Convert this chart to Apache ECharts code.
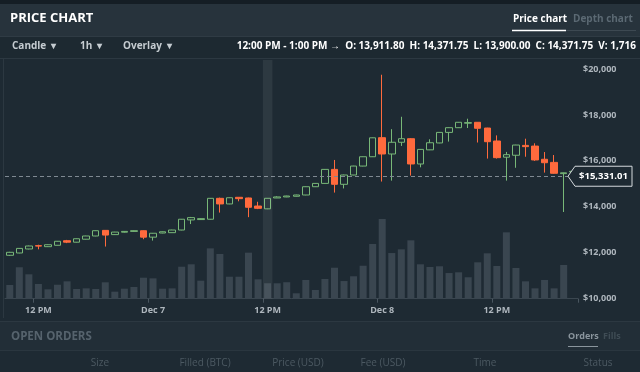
<!DOCTYPE html>
<html><head><meta charset="utf-8">
<script src="https://cdn.jsdelivr.net/npm/echarts@6/dist/echarts.min.js"></script>
<style>html,body{margin:0;padding:0;background:#1e2a33;}#c{width:640px;height:372px;}</style>
</head><body><div id="c"></div>
<script>
// hourly categories, Dec 6 9 AM .. Dec 8 8 PM
const categories = [
 'Dec 6 9 AM','Dec 6 10 AM','Dec 6 11 AM','Dec 6 12 PM','Dec 6 1 PM','Dec 6 2 PM','Dec 6 3 PM','Dec 6 4 PM','Dec 6 5 PM','Dec 6 6 PM','Dec 6 7 PM','Dec 6 8 PM','Dec 6 9 PM','Dec 6 10 PM','Dec 6 11 PM',
 'Dec 7 12 AM','Dec 7 1 AM','Dec 7 2 AM','Dec 7 3 AM','Dec 7 4 AM','Dec 7 5 AM','Dec 7 6 AM','Dec 7 7 AM','Dec 7 8 AM','Dec 7 9 AM','Dec 7 10 AM','Dec 7 11 AM','Dec 7 12 PM','Dec 7 1 PM','Dec 7 2 PM','Dec 7 3 PM','Dec 7 4 PM','Dec 7 5 PM','Dec 7 6 PM','Dec 7 7 PM','Dec 7 8 PM','Dec 7 9 PM','Dec 7 10 PM','Dec 7 11 PM',
 'Dec 8 12 AM','Dec 8 1 AM','Dec 8 2 AM','Dec 8 3 AM','Dec 8 4 AM','Dec 8 5 AM','Dec 8 6 AM','Dec 8 7 AM','Dec 8 8 AM','Dec 8 9 AM','Dec 8 10 AM','Dec 8 11 AM','Dec 8 12 PM','Dec 8 1 PM','Dec 8 2 PM','Dec 8 3 PM','Dec 8 4 PM','Dec 8 5 PM','Dec 8 6 PM','Dec 8 7 PM','Dec 8 8 PM'
];
const opens  = [11890,11990,12165,12310,12265,12325,12525,12460,12590,12730,12975,12790,12895,12930,12960,12680,12860,12875,12990,13430,13445,13460,14370,14125,14415,14385,14035,13911.80,14385,14430,14460,14515,14875,15020,15630,14980,15385,15775,16180,17010,16300,16810,16965,15865,16480,16780,17240,17445,17640,17680,17430,16865,16160,16245,16675,16645,16070,15935,15445,15520];
const closes = [12020,12190,12295,12290,12350,12500,12460,12610,12730,12960,12770,12900,12930,12960,12680,12850,12915,12990,13460,13530,13485,14370,14125,14395,14355,13980,13935,14371.75,14430,14470,14515,14875,15020,15630,14980,15385,15775,16180,17005,16300,16810,16965,15865,16500,16790,17240,17445,17680,17665,17420,16835,16140,16270,16690,16620,16040,15920,15460,15480,15545];
const lows   = [11860,11980,12150,12150,12250,12320,12420,12450,12580,12720,12270,12780,12880,12920,12590,12530,12850,12870,12980,13250,13435,13450,13750,14115,14240,13550,13900,13900,14380,14420,14450,14505,14865,15010,14620,14800,15375,15765,16170,15100,15140,16650,15360,15720,16470,16770,16840,17435,17430,16800,16100,16100,15140,15700,16180,16000,15490,15440,13775,15510];
const highs  = [12040,12200,12310,12350,12360,12510,12560,12620,12740,12970,12990,12910,12940,12970,12970,12860,12925,13000,13470,13560,13495,14380,14400,14405,14425,14400,14220,14371.75,14460,14480,14525,14885,15030,15640,16040,15400,15785,16190,17015,19750,17380,17920,16990,16510,16940,17250,17455,17690,17835,17690,17440,17110,16390,16700,16965,16765,16385,16255,15490,15555];
const volumes = [1520,3490,2710,1630,1040,1550,1930,1080,1150,1080,1820,780,1110,1300,2330,2260,1110,1150,3550,3820,2000,5590,4960,2440,2440,5110,2150,1716,1710,1830,600,2080,970,2190,3440,1960,2490,3660,6070,8850,5070,5480,6480,3820,3520,3600,2850,2930,2380,4040,5040,3630,7370,3410,1930,1150,2080,1150,3740,0];
const yTicks = [10000,12000,14000,16000,18000,20000];
const lastPrice = 15331.01;
const hoverIndex = 27;
const headerInfo = '12:00 PM - 1:00 PM \u2192  O: 13,911.80  H: 14,371.75  L: 13,900.00  C: 14,371.75  V: 1,716';

const BG = '#1e2a33', UP = '#78b878', DOWN = '#ff6a3d', AX = '#aeb6bd';
const FONT = '"Open Sans", "Noto Sans", sans-serif';
const candleData = categories.map((c, i) => [opens[i], closes[i], lows[i], highs[i]]);

const chart = echarts.init(document.getElementById('c'), null, {renderer: 'canvas'});
const fmtTick = v => '$' + Number(v).toLocaleString('en-US');

function isTick(v){ return /12 (AM|PM)$/.test(v); }

chart.setOption({
  backgroundColor: BG,
  animation: false,
  grid: {left: 5, right: 62, top: 60, height: 238.7},
  xAxis: {
    type: 'category', data: categories, boundaryGap: true,
    axisLine: {lineStyle: {color: '#3b4750'}},
    axisTick: {show: true, length: 4, lineStyle: {color: '#4a5660'}, interval: (i, v) => isTick(v)},
    axisLabel: {
      interval: (i, v) => isTick(v), color: AX, fontSize: 9, fontWeight: 'bold', fontFamily: FONT, margin: 7,
      formatter: v => v.endsWith('12 PM') ? '12 PM' : v.replace(/ 12 AM$/, '')
    },
    splitLine: {show: false},
    axisPointer: {
      show: true, type: 'shadow', value: hoverIndex, status: 'show', triggerTooltip: false,
      label: {show: false}, shadowStyle: {color: 'rgba(255,255,255,0.07)'}
    }
  },
  yAxis: [{
    type: 'value', position: 'right', min: yTicks[0], max: 20392, interval: 2000,
    axisLine: {show: false}, axisTick: {show: false}, splitLine: {show: false},
    axisLabel: {color: AX, fontSize: 9, fontWeight: 'bold', fontFamily: FONT, margin: 5, showMaxLabel: false,
      formatter: v => yTicks.indexOf(v) >= 0 ? fmtTick(v) : ''}
  }, {
    type: 'value', min: 0, max: 26500, show: false, splitLine: {show: false}
  }],
  series: [{
    type: 'bar', yAxisIndex: 1, data: volumes, barWidth: 7,
    itemStyle: {color: '#3a4650'}, z: 1, silent: true
  }, {
    type: 'candlestick', data: candleData, barWidth: 7, z: 3,
    itemStyle: {color: BG, color0: DOWN, borderColor: UP, borderColor0: DOWN, borderWidth: 1},
    markLine: {
      silent: true, symbol: 'none', label: {show: false},
      lineStyle: {color: '#7f8992', type: [4, 3], width: 1},
      data: [{yAxis: lastPrice}]
    }
  }]
});

const py = chart.convertToPixel({yAxisIndex: 0}, lastPrice);
chart.setOption({graphic: [
  {type: 'rect', shape: {x: 0, y: 0, width: 640, height: 4}, style: {fill: '#151e25'}, z: 0},
  {type: 'rect', shape: {x: 0, y: 4, width: 640, height: 32}, style: {fill: '#27333c'}, z: 0},
  {type: 'rect', shape: {x: 0, y: 36, width: 640, height: 22}, style: {fill: '#1d2931'}, z: 0},
  {type: 'line', shape: {x1: 0, y1: 36.5, x2: 640, y2: 36.5}, style: {stroke: '#2f3b44', lineWidth: 1}},
  {type: 'line', shape: {x1: 0, y1: 58.5, x2: 640, y2: 58.5}, style: {stroke: '#2c3841', lineWidth: 1}},
  {type: 'line', shape: {x1: 3.5, y1: 59, x2: 3.5, y2: 318}, style: {stroke: '#2c3841', lineWidth: 1}},
  {type: 'rect', shape: {x: 0, y: 321, width: 640, height: 29}, style: {fill: '#222e37'}, z: 0},
  {type: 'line', shape: {x1: 0, y1: 321.5, x2: 640, y2: 321.5}, style: {stroke: '#2c3841', lineWidth: 1}},
  {type: 'line', shape: {x1: 0, y1: 350.5, x2: 640, y2: 350.5}, style: {stroke: '#2a363f', lineWidth: 1}},
  {type: 'text', left: 10, top: 12, style: {text: 'PRICE CHART', font: 'bold 13px ' + FONT, fill: '#ffffff'}},
  {type: 'text', left: 513, top: 14, style: {text: 'Price chart', font: 'bold 10px ' + FONT, fill: '#ffffff'}},
  {type: 'text', left: 573, top: 14, style: {text: 'Depth chart', font: 'bold 10px ' + FONT, fill: '#5b6973'}},
  {type: 'line', shape: {x1: 566, y1: 30.5, x2: 636, y2: 30.5}, style: {stroke: '#3d4952', lineWidth: 1}},
  {type: 'line', shape: {x1: 512, y1: 30.5, x2: 566, y2: 30.5}, style: {stroke: '#ffffff', lineWidth: 1.5}},
  {type: 'text', left: 12, top: 41, style: {text: 'Candle  \u25BE', font: 'bold 10px ' + FONT, fill: '#c5ccd1'}},
  {type: 'text', left: 80, top: 41, style: {text: '1h  \u25BE', font: 'bold 10px ' + FONT, fill: '#c5ccd1'}},
  {type: 'text', left: 123, top: 41, style: {text: 'Overlay  \u25BE', font: 'bold 10px ' + FONT, fill: '#c5ccd1'}},
  {type: 'text', right: 4, top: 41, style: {text: headerInfo, font: 'bold 10px ' + FONT, fill: '#ffffff', textAlign: 'right'}},
  {type: 'polygon', shape: {points: [[568, py], [575, py - 10], [632, py - 10], [632, py + 10], [575, py + 10]]}, style: {fill: BG, stroke: '#d5dade', lineWidth: 1}, z: 10},
  {type: 'text', x: 603.5, y: py, style: {text: '$' + lastPrice.toLocaleString('en-US', {minimumFractionDigits: 2}), font: 'bold 9.5px ' + FONT, fill: '#ffffff', align: 'center', verticalAlign: 'middle'}, z: 11},
  {type: 'text', left: 11, top: 331, style: {text: 'OPEN ORDERS', font: 'bold 11.5px ' + FONT, fill: '#56636d'}},
  {type: 'text', left: 568, top: 332, style: {text: 'Orders', font: 'bold 9px ' + FONT, fill: '#8a959d'}},
  {type: 'text', left: 603, top: 332, style: {text: 'Fills', font: 'bold 9px ' + FONT, fill: '#3f4c55'}},
  {type: 'line', shape: {x1: 568, y1: 346.5, x2: 598, y2: 346.5}, style: {stroke: '#8a959d', lineWidth: 1}},
  {type: 'text', x: 100, y: 363, style: {text: 'Size', font: '10px ' + FONT, fill: '#4c5962', align: 'center', verticalAlign: 'middle'}},
  {type: 'text', x: 205, y: 363, style: {text: 'Filled (BTC)', font: '10px ' + FONT, fill: '#4c5962', align: 'center', verticalAlign: 'middle'}},
  {type: 'text', x: 298, y: 363, style: {text: 'Price (USD)', font: '10px ' + FONT, fill: '#4c5962', align: 'center', verticalAlign: 'middle'}},
  {type: 'text', x: 383, y: 363, style: {text: 'Fee (USD)', font: '10px ' + FONT, fill: '#4c5962', align: 'center', verticalAlign: 'middle'}},
  {type: 'text', x: 485, y: 363, style: {text: 'Time', font: '10px ' + FONT, fill: '#4c5962', align: 'center', verticalAlign: 'middle'}},
  {type: 'text', x: 598, y: 363, style: {text: 'Status', font: '10px ' + FONT, fill: '#4c5962', align: 'center', verticalAlign: 'middle'}}
]});
</script></body></html>
